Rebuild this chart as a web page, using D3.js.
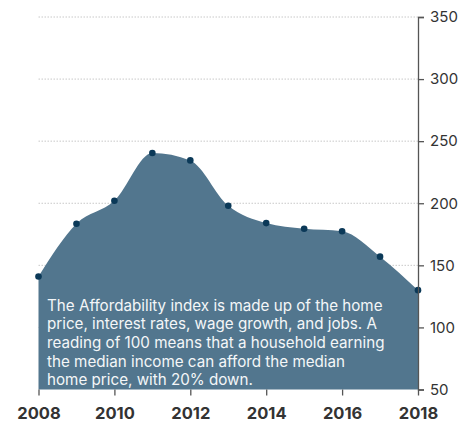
<!DOCTYPE html>
<html><head><meta charset="utf-8">
<script src="https://cdn.jsdelivr.net/npm/d3@7"></script>
<style>body{margin:0;background:#fff}svg{display:block}</style>
</head><body>
<script>
const years = [2008,2009,2010,2011,2012,2013,2014,2015,2016,2017,2018];
const values = [141,183.5,202,240.5,234.5,198,184,179.5,177.5,157,130];
const yTicks = [50,100,150,200,250,300,350];
const xTicks = [2008,2010,2012,2014,2016,2018];
const note = ["The Affordability index is made up of the home",
  "price, interest rates, wage growth, and jobs. A",
  "reading of 100 means that a household earning",
  "the median income can afford the median",
  "home price, with 20% down."];

const W=473,H=425;
const svg=d3.select("body").append("svg").attr("width",W).attr("height",H);
const x=d3.scaleLinear().domain([2008,2018]).range([38.5,418]);
const y=d3.scaleLinear().domain([50,350]).range([389.5,17]);
const font="Inter, 'Libre Franklin', sans-serif";

// grid
svg.append("g").selectAll("line").data(yTicks.filter(d=>d>50)).join("line")
 .attr("x1",x(2008)).attr("x2",x(2018)).attr("y1",d=>y(d)).attr("y2",d=>y(d))
 .attr("stroke","#c8c8c8").attr("stroke-width",1).attr("stroke-dasharray","1.5,1.5");

const data=years.map((d,i)=>({year:d,value:values[i]}));
const area=d3.area().x(d=>x(d.year)).y0(y(50)).y1(d=>y(d.value)).curve(d3.curveMonotoneX);
svg.append("path").datum(data).attr("d",area).attr("fill","#52768e");

svg.append("g").selectAll("circle").data(data).join("circle")
 .attr("cx",d=>x(d.year)).attr("cy",d=>y(d.value)).attr("r",3.3).attr("fill","#0b3958");

// right axis
const ya=svg.append("g").attr("transform",`translate(${x(2018)},0)`)
 .call(d3.axisRight(y).tickValues(yTicks).tickSize(6).tickPadding(6));
ya.select(".domain").attr("stroke","#555").attr("stroke-width",1.3);
ya.selectAll(".tick line").attr("stroke","#555").attr("stroke-width",1.3);
ya.selectAll("text").attr("font-family",font).attr("font-size",15).attr("fill","#333");

// bottom axis
const xa=svg.append("g").attr("transform",`translate(0,${y(50)})`)
 .call(d3.axisBottom(x).tickValues(xTicks).tickFormat(d3.format("d")).tickSize(6).tickPadding(12));
xa.select(".domain").remove();
xa.selectAll(".tick line").attr("stroke","#555").attr("stroke-width",1.3);
xa.selectAll("text").attr("font-family",font).attr("font-size",16.5).attr("font-weight",700).attr("fill","#333");

// note
svg.append("g").selectAll("text").data(note).join("text")
 .attr("x",47).attr("y",(d,i)=>310.7+i*18.6).text(d=>d)
 .attr("font-family",font).attr("font-size",15.2).attr("fill","#f4f6f8");
</script>
</body></html>
